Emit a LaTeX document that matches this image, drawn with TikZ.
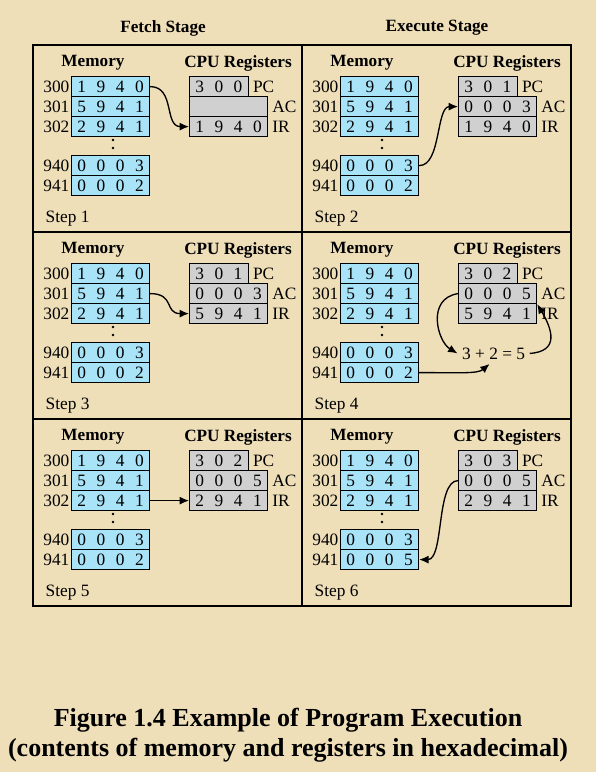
\documentclass[tikz,border=0pt]{standalone}
\usepackage{fontspec}
\setmainfont{Liberation Serif}
\usetikzlibrary{arrows.meta,positioning}
\definecolor{parchment}{HTML}{EFDFB9}
\definecolor{memblue}{HTML}{A9E3F7}
\definecolor{reggray}{HTML}{D0D0D0}

\begin{document}
\begin{tikzpicture}[x=0.75pt,y=-0.75pt,
    txt/.style={font=\fontsize{13}{15}\selectfont},
    head/.style={font=\fontsize{12.9}{15}\selectfont\bfseries},
    cell/.style={draw,line width=0.9pt,anchor=north west,minimum height=15pt,
      inner xsep=4.3pt,inner ysep=0pt,text width=49.9pt,txt,
      execute at begin node={\spaceskip=0pt plus 1fill\relax}},
    memcell/.style={cell,fill=memblue},
    regcell/.style={cell,fill=reggray},
    pccell/.style={regcell,text width=35.3pt},
    addr/.style={anchor=east,inner sep=1pt,txt},
    reg/.style={anchor=west,inner xsep=3pt,txt},
    flow/.style={line width=1pt,-{Latex[length=7pt,width=6pt]}}]
  \fill[parchment] (0,0) rectangle (596,772);
  \useasboundingbox (0,0) rectangle (596,772);

  % Stage titles
  \node[head] at (163,28) {Fetch Stage};
  \node[head] at (437,28) {Execute Stage};

  % Step panels
  \foreach \stp/\col/\row/\pc/\ac/\ir/\mfin in {
      1/0/0/3 0 0/{}/1 9 4 0/0 0 0 2,
      2/1/0/3 0 1/0 0 0 3/1 9 4 0/0 0 0 2,
      3/0/1/3 0 1/0 0 0 3/5 9 4 1/0 0 0 2,
      4/1/1/3 0 2/0 0 0 5/5 9 4 1/0 0 0 2,
      5/0/2/3 0 2/0 0 0 5/2 9 4 1/0 0 0 2,
      6/1/2/3 0 3/0 0 0 5/2 9 4 1/0 0 0 5} {
    \begin{scope}[shift={(33+269*\col,45+187*\row)}]
      \node[head] at (60,18) {Memory};
      \node[head] at (205,18) {CPU Registers};
      \foreach \a/\v/\y in {300/1 9 4 0/31, 301/5 9 4 1/51, 302/2 9 4 1/71,
          940/0 0 0 3/110, 941/\mfin/130} {
        \node[memcell] (s\stp-m\a) at (38,\y) {\v};
        \node[addr] at (s\stp-m\a.west) {\a};
      }
      \fill (80,95) circle (1pt);
      \fill (80,103) circle (1pt);
      \node[pccell] (s\stp-pc) at (156,31) {\pc};
      \node[regcell] (s\stp-ac) at (156,51) {\ac};
      \node[regcell] (s\stp-ir) at (156,71) {\ir};
      \node[reg] at (s\stp-pc.east) {PC};
      \node[reg] at (s\stp-ac.east) {AC};
      \node[reg] at (s\stp-ir.east) {IR};
      \node[txt,anchor=west] at (8,174) {Step \stp};
    \end{scope}
  }

  % Frame
  \draw[line width=2.2pt] (33,45) rectangle (571,606);
  \draw[line width=2.2pt] (302,45) -- (302,606);
  \draw[line width=2.2pt] (33,232) -- (571,232) (33,419) -- (571,419);

  % Data movement
  \draw[flow] (s1-m300.east) .. controls +(25,0) and +(-25,0) .. (s1-ir.west);
  \draw[flow] (s2-m940.east) .. controls +(22,0) and +(-22,0) .. (s2-ac.west);
  \draw[flow] (s3-m301.east) .. controls +(25,0) and +(-25,0) .. (s3-ir.west);
  \node[txt,below=14pt of s4-ir,xshift=-3pt] (s4-sum) {3 + 2 = 5};
  \draw[flow] (s4-ac.west) .. controls +(-32,5) and +(-20,-12) .. (s4-sum.west);
  \draw[flow] (s4-m941.east) .. controls +(40,0) and +(-12,10) .. ([xshift=-3pt]s4-sum.south);
  \draw[flow] (s4-sum.east) .. controls +(30,-2) and +(15,25) .. (s4-ac.south east);
  \draw[flow] (s5-m302.east) -- (s5-ir.west);
  \draw[flow] (s6-ac.west) .. controls +(-22,0) and +(25,0) .. (s6-m941.east);

  % Caption
  \node[align=center,font=\fontsize{19.5}{22.5}\selectfont\bfseries] at (288,735)
    {Figure 1.4 Example of Program Execution\\(contents of memory and registers in hexadecimal)};
\end{tikzpicture}
\end{document}
